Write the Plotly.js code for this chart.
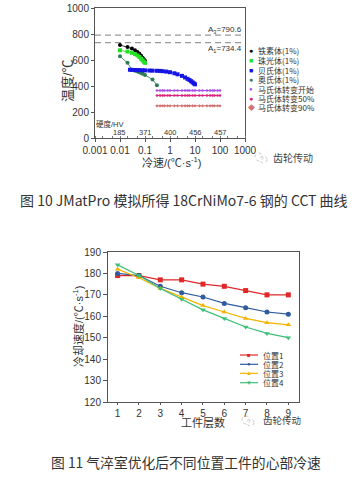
<!DOCTYPE html>
<html><head><meta charset="utf-8">
<script src="https://cdn.plot.ly/plotly-3.0.1.min.js"></script>
<style>html,body{margin:0;padding:0;background:#fff}#c{width:363px;height:478px}</style>
</head><body><div id="c"></div>
<script>
// ---- Figure 10: CCT curve data ----
const ferX = [0.01, 0.02, 0.03, 0.04, 0.05, 0.06, 0.07, 0.08, 0.09, 0.1];
const ferT = [715, 700, 688, 675, 662, 648, 633, 618, 605, 595];
const pearX = [0.01, 0.02, 0.03, 0.04, 0.05, 0.06, 0.07, 0.08, 0.09, 0.1];
const pearT = [675, 665, 655, 645, 635, 623, 610, 598, 588, 578];
const baiX = [0.025, 0.03, 0.04, 0.05, 0.06, 0.08, 0.1, 0.15, 0.2, 0.3, 0.4, 0.5, 0.7, 1, 1.5, 2, 3, 4, 5, 6, 7, 8, 9, 10];
const baiT = [525, 524, 523, 522, 522, 521, 520, 519, 518, 517, 516, 514, 511, 506, 498, 490, 478, 466, 455, 446, 437, 428, 420, 413];
const ausX = [0.01, 0.02, 0.03, 0.04, 0.05, 0.06, 0.07, 0.08, 0.1, 0.2, 0.3];
const ausT = [628, 578, 525, 518, 512, 506, 500, 495, 485, 450, 405];
const marX = [0.3, 0.4, 0.5, 0.6, 0.8, 1, 1.5, 2, 3, 4, 5, 6, 8, 10, 15, 20, 30, 40, 50, 60, 80, 100];
const msT  = [365, 365, 365, 365, 365, 365, 365, 365, 365, 365, 365, 365, 365, 365, 365, 365, 365, 365, 365, 365, 365, 365];
const m50T = [327, 327, 327, 327, 327, 327, 327, 327, 327, 327, 327, 327, 327, 327, 327, 327, 327, 327, 327, 327, 327, 327];
const m90T = [248, 248, 248, 248, 248, 248, 248, 248, 248, 248, 248, 248, 248, 248, 248, 248, 248, 248, 248, 248, 248, 248];
const aLineX = [0.001, 1000];
const a3T = [790.6, 790.6];
const a1T = [734.4, 734.4];
const cctNames = ['铁素体(1%)', '珠光体(1%)', '贝氏体(1%)', '奥氏体(1%)', '马氏体转变开始', '马氏体转变50%', '马氏体转变90%'];
const hvRates = [0.01, 0.1, 1, 10, 100];
const hvVals = ['185', '371', '400', '456', '457'];
const rateTicks = [0.001, 0.01, 0.1, 1, 10, 100, 1000];
const rateTickText = ['0.001', '0.01', '0.1', '1', '10', '100', '1000'];

// ---- Figure 11: cooling rate data ----
const layers = [1, 2, 3, 4, 5, 6, 7, 8, 9];
const pos1 = [179, 179, 177, 177, 175, 174, 172, 170, 170];
const pos2 = [180, 179, 174, 171, 169, 166, 164, 162, 161];
const pos3 = [182, 178, 173, 169, 165, 162, 159, 157, 156];
const pos4 = [184, 179, 173, 168, 163, 159, 155, 152, 150];
const posNames = ['位置1', '位置2', '位置3', '位置4'];

const W = 363, H = 478;
const px = x => x / W, py = y => 1 - y / H;
const FONT = 'Liberation Sans, Arial, Noto Sans CJK SC, sans-serif';
const CJK = 'Noto Sans CJK SC, sans-serif';

const cctCol = ['#000000', '#22e022', '#1414e6', '#2e7d57', '#a64ce6', '#e0207a', '#d27272'];
const cctSym = ['circle', 'square', 'square', 'circle', 'circle', 'circle', 'diamond'];
const posCol = ['#e02828', '#2f5c9e', '#f5b400', '#3cc07a'];
const posSym = ['square', 'circle', 'triangle-up', 'triangle-down'];

const traces = [];
function t1(x, y, i, ms, lw) {
  traces.push({x: x, y: y, xaxis: 'x', yaxis: 'y', mode: 'lines+markers', name: cctNames[i],
    line: {color: cctCol[i], width: lw}, marker: {color: cctCol[i], symbol: cctSym[i], size: ms}, hoverinfo: 'skip'});
}
traces.push({x: aLineX, y: a3T, xaxis: 'x', yaxis: 'y', mode: 'lines', line: {color: '#9a9a9a', width: 1.2, dash: '6px,4px'}});
traces.push({x: aLineX, y: a1T, xaxis: 'x', yaxis: 'y', mode: 'lines', line: {color: '#9a9a9a', width: 1.2, dash: '6px,4px'}});
t1(ferX, ferT, 0, 4, 0.8);
t1(pearX, pearT, 1, 4, 0.8);
t1(ausX, ausT, 3, 4, 0.8);
t1(baiX, baiT, 2, 4, 0.8);
t1(marX, msT, 4, 2.5, 1);
t1(marX, m50T, 5, 2.5, 1);
t1(marX, m90T, 6, 2.5, 1);

const posData = [pos1, pos2, pos3, pos4];
posData.forEach((d, i) => traces.push({x: layers, y: d, xaxis: 'x2', yaxis: 'y2', mode: 'lines+markers', name: posNames[i],
  line: {color: posCol[i], width: 1.2}, marker: {color: posCol[i], symbol: posSym[i], size: 5}}));

const ann = [];
const shapes = [];
function txt(text, x, y, size, opts) {
  ann.push(Object.assign({text: text, x: px(x), y: py(y), xref: 'paper', yref: 'paper', showarrow: false,
    font: {size: size, color: '#333', family: FONT}, xanchor: 'center', yanchor: 'middle'}, opts || {}));
}
// axis titles
txt('温度/℃', 68, 81, 13, {textangle: -90});
txt('冷速/(℃·s<sup>-1</sup>)', 171, 162, 11);
txt('冷却速度/(℃·s<sup>-1</sup>)', 78, 327, 11, {textangle: -90});
txt('工件层数', 203, 423, 11);
// A lines labels
txt('A<sub>3</sub>=790.6', 244, 30.5, 8, {xanchor: 'right'});
txt('A<sub>1</sub>=734.4', 244, 48.5, 8, {xanchor: 'right'});
// hardness
txt('硬度/HV', 110, 124, 7.5);
hvRates.forEach((r, i) => ann.push({text: hvVals[i], x: Math.log10(r), xref: 'x', y: py(133), yref: 'paper', showarrow: false,
  font: {size: 7.5, color: '#333', family: FONT}, xanchor: 'center', yanchor: 'middle'}));
// legend figure 10
const glyph1 = ['●', '■', '■', '●', '●', '●', '◆'];
const rows1 = [50.7, 60.3, 70, 79.3, 89, 98.7, 107.7];
cctNames.forEach((n, i) => {
  txt(glyph1[i], 251.5, rows1[i], i === 4 ? 6 : 7, {font: {size: i === 4 ? 6 : 7, color: cctCol[i], family: FONT}});
  txt(n, 255.5, rows1[i], 8, {xanchor: 'left', font: {size: 8, color: '#333', family: CJK}});
});
// legend figure 11
const glyph2 = ['■', '●', '▲', '▼'];
const rows2 = [355, 364.3, 373.3, 382.7];
posNames.forEach((n, i) => {
  shapes.push({type: 'line', xref: 'paper', yref: 'paper', x0: px(240), x1: px(258), y0: py(rows2[i]), y1: py(rows2[i]),
    line: {color: posCol[i], width: 1.2}});
  txt(glyph2[i], 249, rows2[i], 6, {font: {size: 6, color: posCol[i], family: FONT}});
  txt(n, 261, rows2[i], 8, {xanchor: 'left', font: {size: 8, color: '#333', family: CJK}});
});
// watermarks
txt('齿轮传动', 293, 157, 10, {font: {size: 10, color: '#444', family: CJK}});
txt('齿轮传动', 282, 420, 9.5, {font: {size: 9.5, color: '#444', family: CJK}});
[[261, 157], [248, 420]].forEach(c => {
  shapes.push({type: 'circle', xref: 'paper', yref: 'paper', x0: px(c[0] - 6), x1: px(c[0] + 2), y0: py(c[1] - 4), y1: py(c[1] + 4),
    line: {color: '#bbb', width: 0.8, dash: 'dot'}});
  shapes.push({type: 'circle', xref: 'paper', yref: 'paper', x0: px(c[0] - 1), x1: px(c[0] + 6), y0: py(c[1] - 1), y1: py(c[1] + 6),
    line: {color: '#bbb', width: 0.8, dash: 'dot'}});
});
// captions
txt('图 10 JMatPro 模拟所得 18CrNiMo7-6 钢的 CCT 曲线', 184, 200, 14, {font: {size: 14, color: '#333', family: CJK}});
txt('图 11 气淬室优化后不同位置工件的心部冷速', 186, 461.5, 13.8, {font: {size: 13.8, color: '#333', family: CJK}});

const axBase = {showline: true, mirror: true, linecolor: '#555', linewidth: 1, ticks: 'outside', ticklen: 3,
  tickcolor: '#555', showgrid: false, zeroline: false, tickfont: {size: 10, color: '#333', family: FONT}};

const layout = {
  width: W, height: H, margin: {l: 0, r: 0, t: 0, b: 0}, paper_bgcolor: '#fff', plot_bgcolor: '#fff', showlegend: false,
  xaxis: Object.assign({}, axBase, {type: 'log', range: [-3, 3], domain: [px(95), px(245)], anchor: 'y',
    tickvals: rateTicks, ticktext: rateTickText, minor: {ticks: 'inside', ticklen: 2, tickcolor: '#777', showgrid: false}}),
  yaxis: Object.assign({}, axBase, {range: [0, 1000], dtick: 200, domain: [py(138), py(8)], anchor: 'x'}),
  xaxis2: Object.assign({}, axBase, {range: [0.55, 9.5], tickvals: layers, domain: [px(108), px(299)], anchor: 'y2', ticklen: 2}),
  yaxis2: Object.assign({}, axBase, {range: [120, 190], dtick: 10, domain: [py(402), py(252)], anchor: 'x2', ticklen: 4}),
  annotations: ann, shapes: shapes
};
Plotly.newPlot('c', traces, layout, {displayModeBar: false, staticPlot: true});
</script></body></html>
